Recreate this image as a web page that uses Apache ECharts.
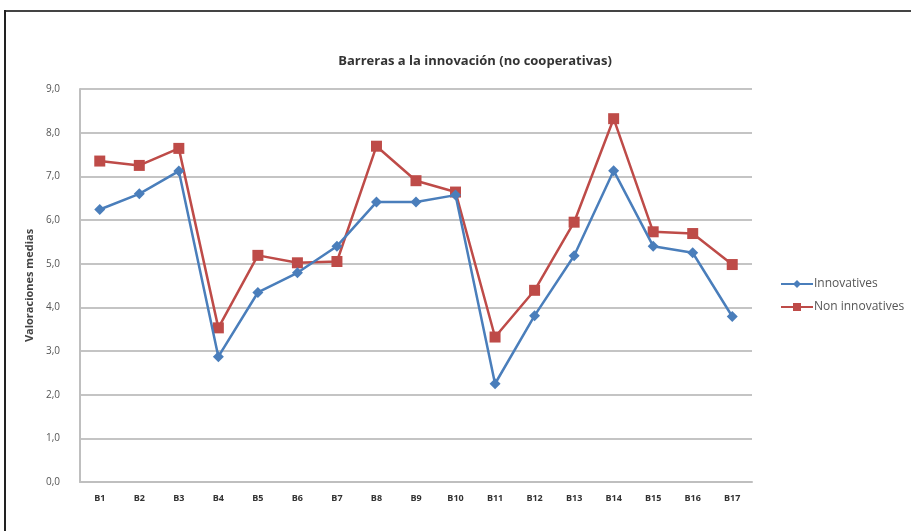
<!DOCTYPE html>
<html>
<head>
<meta charset="utf-8">
<script src="https://cdn.jsdelivr.net/npm/echarts@6/dist/echarts.min.js"></script>
<style>
  html, body { margin: 0; padding: 0; background: #ffffff; }
  #chart { width: 911px; height: 531px; }
</style>
</head>
<body>
<div id="chart"></div>
<script>
// Barrier categories on the horizontal axis
const categories = ['B1','B2','B3','B4','B5','B6','B7','B8','B9','B10','B11','B12','B13','B14','B15','B16','B17'];

// Mean ratings per barrier
const innovatives = [6.24, 6.60, 7.12, 2.87, 4.34, 4.79, 5.40, 6.41, 6.41, 6.57, 2.25, 3.81, 5.18, 7.13, 5.40, 5.25, 3.79];
const nonInnovatives = [7.35, 7.25, 7.64, 3.53, 5.19, 5.02, 5.05, 7.69, 6.90, 6.64, 3.32, 4.39, 5.95, 8.32, 5.73, 5.69, 4.98];

const seriesNames = ['Innovatives', 'Non innovatives'];
const titleText = 'Barreras a la innovación (no cooperativas)';
const yAxisTitle = 'Valoraciones medias';

const chart = echarts.init(document.getElementById('chart'), null, { renderer: 'canvas' });

const fontFamily = '"Open Sans", "Liberation Sans", sans-serif';

chart.setOption({
  backgroundColor: '#ffffff',
  animation: false,
  title: {
    text: titleText,
    left: 470,
    top: 50,
    textAlign: 'center',
    textStyle: { fontFamily, fontSize: 13, fontWeight: 'bold', color: '#333333' }
  },
  legend: {
    orient: 'vertical',
    left: 775,
    top: 273,
    itemGap: 11,
    itemWidth: 32,
    itemHeight: 10,
    textStyle: { fontFamily, fontSize: 12, color: '#555555', padding: [0, 0, 0, -4] },
    data: seriesNames
  },
  grid: { left: 80, right: 159, top: 89, bottom: 49 },
  xAxis: {
    type: 'category',
    data: categories,
    boundaryGap: true,
    axisLine: { lineStyle: { color: '#bfbfbf', width: 2 } },
    axisTick: { show: false },
    axisLabel: { fontFamily, fontSize: 9, fontWeight: 'bold', color: '#333333', margin: 12 }
  },
  yAxis: {
    type: 'value',
    min: 0,
    max: 9,
    interval: 1,
    name: yAxisTitle,
    nameLocation: 'middle',
    nameGap: 42,
    nameTextStyle: { fontFamily, fontSize: 11, fontWeight: 'bold', color: '#444444' },
    axisLine: { show: true, lineStyle: { color: '#bfbfbf', width: 2 } },
    axisTick: { show: false },
    splitLine: { lineStyle: { color: '#c4c4c4', width: 2 } },
    axisLabel: {
      fontFamily, fontSize: 10, color: '#555555', margin: 20,
      formatter: v => v.toFixed(1).replace('.', ',')
    }
  },
  series: [
    {
      name: seriesNames[0],
      type: 'line',
      data: innovatives,
      symbol: 'diamond',
      symbolSize: 11,
      itemStyle: { color: '#4a7ebb' },
      lineStyle: { color: '#4a7ebb', width: 2.5 },
      z: 3
    },
    {
      name: seriesNames[1],
      type: 'line',
      data: nonInnovatives,
      symbol: 'rect',
      symbolSize: 11,
      itemStyle: { color: '#be4b48' },
      lineStyle: { color: '#be4b48', width: 2.5 },
      z: 2
    }
  ],
  graphic: [
    // frame: top and left edges
    { type: 'line', shape: { x1: 4, y1: 11, x2: 911, y2: 11 }, style: { stroke: '#444444', lineWidth: 2 } },
    { type: 'line', shape: { x1: 5, y1: 10, x2: 5, y2: 531 }, style: { stroke: '#222222', lineWidth: 2 } }
  ]
});
</script>
</body>
</html>
